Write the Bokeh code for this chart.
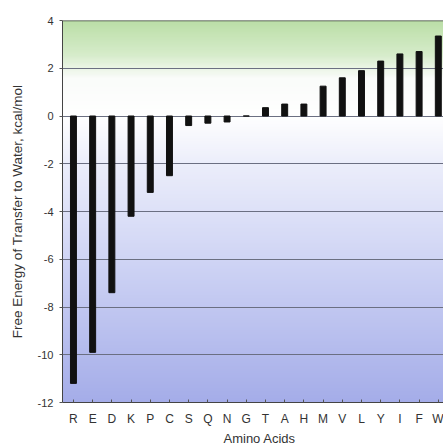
import numpy as np
from bokeh.plotting import figure
from bokeh.models import FixedTicker, Range1d, Title
from bokeh.embed import file_html
from bokeh.resources import INLINE

amino_acids = ["R", "E", "D", "K", "P", "C", "S", "Q", "N", "G",
               "T", "A", "H", "M", "V", "L", "Y", "I", "F", "W"]
free_energy = [-11.2, -9.9, -7.4, -4.2, -3.2, -2.5, -0.4, -0.3, -0.25, 0.0,
               0.35, 0.5, 0.5, 1.25, 1.6, 1.9, 2.3, 2.6, 2.7, 3.35]
y_ticks = [4, 2, 0, -2, -4, -6, -8, -10, -12]

x_idx = list(range(len(amino_acids)))
x0, x1 = -0.57, 19.27

p = figure(width=443, height=445, output_backend="svg", toolbar_location=None,
           x_range=Range1d(x0, x1), y_range=Range1d(-12, 4),
           min_border_left=62, min_border_right=0, min_border_top=20, min_border_bottom=41)

# background gradient (green top -> white -> blue bottom)
stops_v = [4.0, 2.6, 1.6, 0.0, -2.0, -6.0, -12.0]
stops_c = [(188, 223, 168), (214, 236, 202), (250, 252, 250), (255, 255, 255),
           (236, 238, 251), (208, 213, 245), (165, 173, 233)]
ny = 320
yy = np.linspace(-12, 4, ny)
img = np.zeros((ny, 1), dtype=np.uint32)
view = img.view(dtype=np.uint8).reshape((ny, 1, 4))
sv = stops_v[::-1]
for ch in range(3):
    cv = [c[ch] for c in stops_c][::-1]
    view[:, 0, ch] = np.interp(yy, sv, cv).astype(np.uint8)
view[:, 0, 3] = 255
p.image_rgba(image=[img], x=x0, y=-12, dw=x1 - x0, dh=16)

# horizontal grid lines drawn above the background
p.hspan(y=[t for t in y_ticks if -12 < t < 4], line_color="#6b6f82", line_width=1)
p.hspan(y=[4], line_color="#3a3f3a", line_width=1.5)

p.vbar(x=x_idx, top=free_energy, bottom=0, width=0.31, color="#111111")

p.xgrid.visible = False
p.ygrid.visible = False
p.outline_line_color = None

p.yaxis.ticker = FixedTicker(ticks=y_ticks)
p.yaxis.major_label_overrides = {t: str(t) for t in y_ticks}
p.yaxis.minor_tick_line_color = None
p.yaxis.major_tick_in = 0
p.yaxis.major_tick_out = 3
p.yaxis.axis_label = "Free Energy of Transfer to Water, kcal/mol"

p.xaxis.ticker = FixedTicker(ticks=x_idx)
p.xaxis.major_label_overrides = {i: a for i, a in enumerate(amino_acids)}
p.xaxis.minor_tick_line_color = None
p.xaxis.major_tick_in = 3
p.xaxis.major_tick_out = 0

for ax in (p.xaxis[0], p.yaxis[0]):
    ax.axis_line_color = "#444444"
    ax.major_tick_line_color = "#555555"
    ax.major_label_text_font = "Liberation Sans"
    ax.major_label_text_color = "#333333"
    ax.axis_label_text_font = "Liberation Sans"
    ax.axis_label_text_font_style = "normal"
    ax.axis_label_text_color = "#333333"
    ax.axis_label_text_font_size = "13.5px"

p.yaxis.major_label_text_font_size = "11px"
p.xaxis.major_label_text_font_size = "12px"
p.xaxis.major_label_standoff = 9
p.yaxis.major_label_standoff = 6
p.yaxis.axis_label_standoff = 10

xt = Title(text="Amino Acids", align="left", offset=161, text_font="Liberation Sans",
           text_font_style="normal", text_font_size="13px", text_color="#333333",
           standoff=0)
p.add_layout(xt, "below")

open("out.html", "w").write(file_html(p, INLINE))
